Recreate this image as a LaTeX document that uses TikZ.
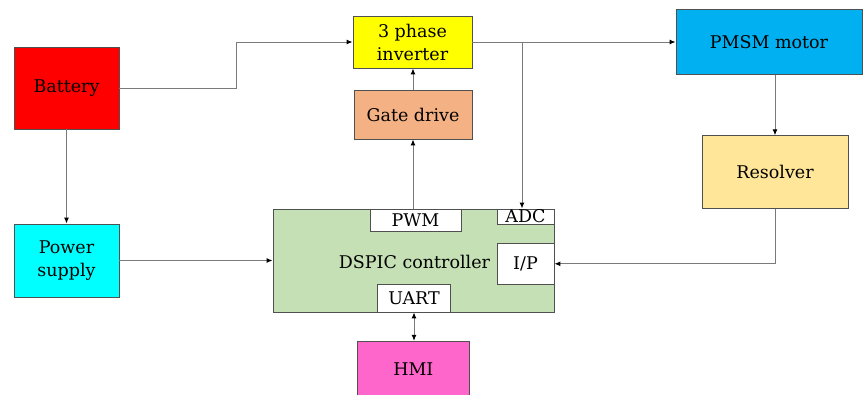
\documentclass[tikz,border=0pt]{standalone}
\usepackage{fontspec}
\setmainfont{DejaVu Serif}
\usetikzlibrary{arrows.meta}
\definecolor{batred}{HTML}{FF0000}
\definecolor{invyellow}{HTML}{FFFF00}
\definecolor{motorblue}{HTML}{00B0F0}
\definecolor{gateorange}{HTML}{F4B183}
\definecolor{resyellow}{HTML}{FFE699}
\definecolor{pscyan}{HTML}{00FFFF}
\definecolor{dspgreen}{HTML}{C5E0B4}
\definecolor{hmipink}{HTML}{FF66CC}
\definecolor{bordergray}{HTML}{505050}
\definecolor{linegray}{HTML}{7A7A7A}
\begin{document}
\begin{tikzpicture}[x=1pt,y=-1pt,
  box/.style={draw=bordergray, line width=0.9pt, inner sep=0pt, align=center,
    font=\fontsize{17.5}{23}\selectfont},
  conn/.style={draw=linegray, line width=1pt, -{Latex[length=6pt,width=5pt,black]}},
  dconn/.style={draw=linegray, line width=1pt, {Latex[length=6pt,width=5pt,black]}-{Latex[length=6pt,width=5pt,black]}},
  lbl/.style={inner sep=0pt, font=\fontsize{17.5}{23}\selectfont}]
\useasboundingbox (0,0) rectangle (863,394);

\node[box, fill=batred, minimum width=105pt, minimum height=82pt] (bat) at (66.5,88) {Battery};
\node[box, fill=invyellow, minimum width=119pt, minimum height=52pt] (inv) at (412.5,42) {3 phase\\inverter};
\node[box, fill=motorblue, minimum width=186pt, minimum height=65pt] (pmsm) at (769,42) {PMSM motor};
\node[box, fill=gateorange, minimum width=118pt, minimum height=49pt] (gate) at (413,114.5) {Gate drive};
\node[box, fill=resyellow, minimum width=146pt, minimum height=72.5pt] (res) at (775,172) {Resolver};
\node[box, fill=pscyan, minimum width=105pt, minimum height=73pt] (ps) at (66.5,260.5) {Power\\supply};
\node[box, fill=dspgreen, minimum width=281pt, minimum height=103pt] (dsp) at (413.5,260.5) {};
\node[lbl, anchor=base] (dspt) at (414.5,268) {DSPIC controller};
\node[box, fill=white, minimum width=91pt, minimum height=22pt] (pwm) at (415.5,220) {PWM};
\node[box, fill=white, minimum width=57pt, minimum height=15.3pt, text height=11pt, text depth=0pt] (adc) at (525.5,216.6) {ADC};
\node[box, fill=white, minimum width=57pt, minimum height=40.3pt] (ip) at (525.5,263.8) {I/P};
\node[box, fill=white, minimum width=73.7pt, minimum height=28pt] (uart) at (414,298) {UART};
\node[box, fill=hmipink, minimum width=112pt, minimum height=55pt] (hmi) at (413.3,368.8) {HMI};

\coordinate (bend) at (236,88);
\coordinate (br) at (522,42);

\draw[conn] (bat.east) -- (bend) |- (inv.west);
\draw[conn] (inv.east) -- (pmsm.west);
\draw[conn] (br) -- (br |- adc.north);
\draw[conn] (gate.north) -- (gate.north |- inv.south);
\draw[conn] (gate.south |- pwm.north) -- (gate.south);
\draw[conn] (res.north |- pmsm.south) -- (res.north);
\draw[conn] (res.south) |- (ip.east);
\draw[conn] (bat.south) -- (ps.north);
\draw[conn] (ps.east) -- (dsp.west);
\draw[dconn] (uart.south) -- (uart.south |- hmi.north);
\end{tikzpicture}
\end{document}
